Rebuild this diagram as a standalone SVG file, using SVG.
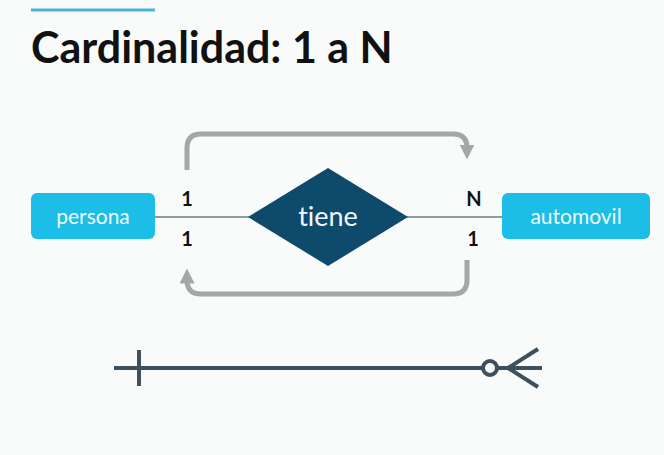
<svg xmlns="http://www.w3.org/2000/svg" width="664" height="455" viewBox="0 0 664 455">
<style>
text{font-variant-ligatures:none;}
.entity{fill:#1cbde6;}
.etext{fill:#eefaff;font-family:Lato,"Liberation Sans",sans-serif;font-size:21px;text-anchor:middle;}
.card{fill:#111;font-family:Lato,"Liberation Sans",sans-serif;font-size:20px;font-weight:bold;text-anchor:middle;}
.flow{fill:none;stroke:#a3a7a6;stroke-width:5;stroke-linecap:butt;}
.er{fill:none;stroke:#3e4f5e;stroke-width:4;}
</style>
<defs>
<marker id="ah" viewBox="0 0 10 10" refX="5" refY="5" markerWidth="3" markerHeight="3" orient="auto">
<path d="M0,0 L10,5 L0,10 Z" fill="#a3a7a6"/>
</marker>
</defs>
<rect x="0" y="0" width="664" height="455" fill="#f8fbfa"/>
<line x1="31" y1="10" x2="155" y2="10" stroke="#4ab3d8" stroke-width="3"/>
<text x="31" y="63" font-family="Lato,'Liberation Sans',sans-serif" font-size="43" font-weight="bold" fill="#111">Cardinalidad: 1 a N</text>
<g id="connectors">
<line x1="155" y1="217" x2="250" y2="217" stroke="#6f7780" stroke-width="1.3"/>
<line x1="406" y1="217" x2="502" y2="217" stroke="#6f7780" stroke-width="1.3"/>
<path class="flow" d="M187,170 V148 Q187,134 201,134 H453 Q467,134 467,148 V152" marker-end="url(#ah)"/>
<path class="flow" d="M467,260 V280 Q467,294 453,294 H201 Q187,294 187,280 V276" marker-end="url(#ah)"/>
</g>
<g id="persona">
<rect class="entity" x="31" y="193" width="124" height="46" rx="6"/>
<text class="etext" x="93" y="224">persona</text>
</g>
<g id="automovil">
<rect class="entity" x="502" y="193" width="148" height="46" rx="6"/>
<text class="etext" x="576" y="224">automovil</text>
</g>
<g id="tiene">
<polygon points="248,217 328,168 408,217 328,266" fill="#0e4a6b"/>
<text x="328" y="226" font-family="Lato,'Liberation Sans',sans-serif" font-size="27" fill="#eefaff" text-anchor="middle">tiene</text>
</g>
<g id="cardinalities">
<text class="card" x="187" y="206">1</text>
<text class="card" x="187" y="246">1</text>
<text class="card" x="474" y="206">N</text>
<text class="card" x="473" y="246">1</text>
</g>
<g id="er-notation">
<line class="er" x1="114" y1="368" x2="482" y2="368"/>
<line class="er" x1="139" y1="350" x2="139" y2="386"/>
<circle class="er" cx="490" cy="368" r="7"/>
<line class="er" x1="498" y1="368" x2="542" y2="368"/>
<line class="er" x1="508" y1="368" x2="538" y2="349"/>
<line class="er" x1="508" y1="368" x2="538" y2="387"/>
</g>
</svg>
